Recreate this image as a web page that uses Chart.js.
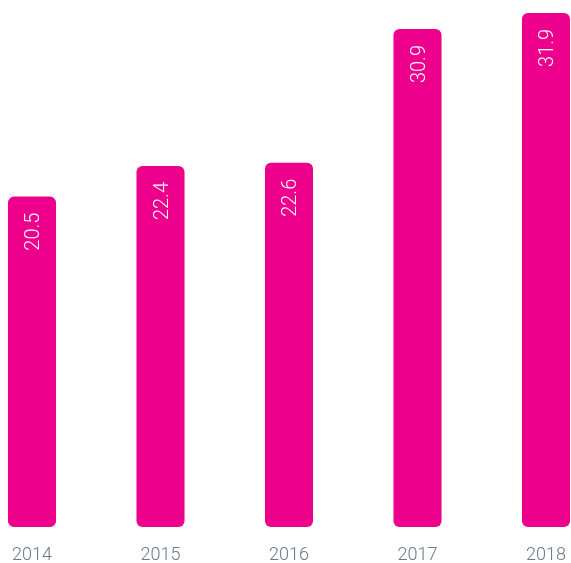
<!DOCTYPE html>
<html>
<head>
<meta charset="utf-8">
<script src="https://cdn.jsdelivr.net/npm/chart.js@4"></script>
<style>
  html, body { margin: 0; padding: 0; background: #fff; }
  #wrap { width: 571px; height: 563px; position: relative; }
</style>
</head>
<body>
<div id="wrap"><canvas id="graphique"></canvas></div>
<script>
const annees = ['2014', '2015', '2016', '2017', '2018'];
const valeurs = [20.5, 22.4, 22.6, 30.9, 31.9];

const magenta = '#ec008c';

// écrit la valeur à la verticale en haut de chaque barre
const etiquettes = {
    id: 'etiquettes',
    afterDatasetsDraw(chart) {
        const ctx = chart.ctx;
        const meta = chart.getDatasetMeta(0);
        ctx.save();
        ctx.fillStyle = '#ffffff';
        ctx.font = '300 20px Roboto';
        ctx.textAlign = 'right';
        ctx.textBaseline = 'middle';
        meta.data.forEach((bar, i) => {
            ctx.save();
            ctx.translate(bar.x + 2, bar.y + 16);
            ctx.rotate(-Math.PI / 2);
            ctx.fillText(valeurs[i].toFixed(1), 0, 0);
            ctx.restore();
        });
        ctx.restore();
    }
};

new Chart(document.getElementById('graphique'), {
    type: 'bar',
    data: {
        labels: annees,
        datasets: [{
            data: valeurs,
            backgroundColor: magenta,
            borderRadius: 6,
            borderSkipped: false,
            barPercentage: 1,
            categoryPercentage: 0.374,
            clip: false
        }]
    },
    options: {
        responsive: true,
        maintainAspectRatio: false,
        animation: false,
        layout: { padding: { left: 32, right: 25, top: 0, bottom: 0 } },
        plugins: { legend: { display: false }, tooltip: { enabled: false } },
        scales: {
            x: {
                offset: false,
                grid: { display: false, drawTicks: false },
                border: { display: false },
                ticks: {
                    color: '#6b7888',
                    font: { family: 'Roboto', size: 18, weight: 300 },
                    padding: 18,
                    maxRotation: 0
                },
                afterFit(scale) {
                    scale.height = 36;
                    scale.paddingLeft = 0;
                    scale.paddingRight = 0;
                }
            },
            y: {
                display: false,
                min: 0,
                max: 32.7
            }
        }
    },
    plugins: [etiquettes]
});
</script>
</body>
</html>
